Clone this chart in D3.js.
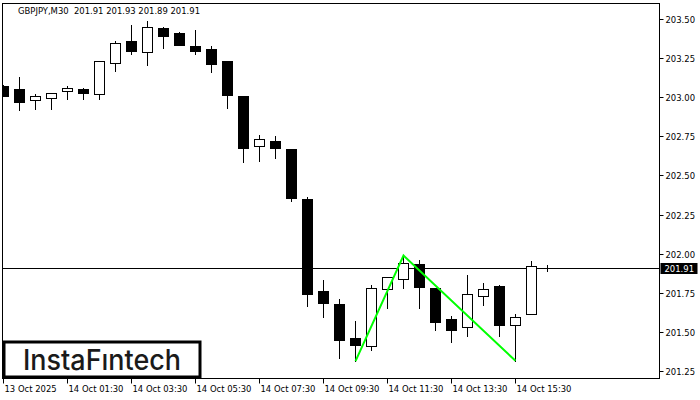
<!DOCTYPE html>
<html>
<head>
<meta charset="utf-8">
<script src="https://cdn.jsdelivr.net/npm/d3@7/dist/d3.min.js"></script>
<style>
  body { margin: 0; background: #fff; }
  svg { display: block; }
  .lbl { font-family: "DejaVu Sans Condensed", "DejaVu Sans", sans-serif; font-stretch: condensed; font-size: 9.4px; fill: #000; white-space: pre; }
</style>
</head>
<body>
<svg id="chart" width="700" height="400"></svg>
<script>
var title = "GBPJPY,M30  201.91 201.93 201.89 201.91";
var lastPrice = 201.91;

// M30 bars, 13 Oct 23:30 .. 14 Oct 16:30
var open  = [203.070, 203.054, 202.980, 202.997, 203.038, 203.052, 203.019, 203.217, 203.359, 203.287,
             203.441, 203.409, 203.327, 203.308, 203.231, 203.008, 202.686, 202.720, 202.669, 202.349,
             201.761, 201.678, 201.458, 201.407, 201.772, 201.836, 201.932, 201.778, 201.582, 201.529,
             201.727, 201.791, 201.542, 201.612, 201.910];
var high  = [203.078, 203.127, 203.020, 203.027, 203.074, 203.059, 203.232, 203.357, 203.462, 203.487,
             203.449, 203.417, 203.430, 203.327, 203.233, 203.010, 202.756, 202.752, 202.670, 202.360,
             201.831, 201.708, 201.569, 201.797, 201.850, 201.988, 201.959, 201.780, 201.601, 201.863,
             201.812, 201.797, 201.612, 201.951, 201.930];
var low   = [203.010, 202.916, 202.926, 202.926, 202.987, 202.987, 202.987, 203.166, 203.278, 203.208,
             203.316, 203.336, 203.278, 203.163, 202.933, 202.588, 202.594, 202.613, 202.338, 201.667,
             201.597, 201.334, 201.313, 201.384, 201.654, 201.778, 201.654, 201.512, 201.437, 201.475,
             201.673, 201.475, 201.315, 201.612, 201.890];
var close = [203.010, 202.967, 203.006, 203.025, 203.057, 203.025, 203.230, 203.345, 203.297, 203.447,
             203.393, 203.336, 203.297, 203.214, 203.016, 202.677, 202.731, 202.677, 202.357, 201.742,
             201.686, 201.450, 201.418, 201.778, 201.848, 201.938, 201.788, 201.565, 201.513, 201.740,
             201.776, 201.545, 201.597, 201.919, 201.910];

// double top pattern (bar index, price)
var patternBars = [22, 25, 32];
var patternPrices = [201.313, 201.988, 201.315];

var yTicks = [201.25, 201.50, 201.75, 202.00, 202.25, 202.50, 202.75, 203.00, 203.25, 203.50];
var xTickBars = [0, 4, 8, 12, 16, 20, 24, 28, 32];
var xTickLabels = ["13 Oct 2025", "14 Oct 01:30", "14 Oct 03:30", "14 Oct 05:30", "14 Oct 07:30",
                   "14 Oct 09:30", "14 Oct 11:30", "14 Oct 13:30", "14 Oct 15:30"];

var pLeft = 2.5, pTop = 3.5, pRight = 659.5, pBottom = 378.5;

var svg = d3.select("#chart");

var x = d3.scaleLinear().domain([0, 41]).range([3.5, 3.5 + 16 * 41]);
var y = d3.scaleLinear().domain([201.25, 203.5]).range([371, 19]);
function py(v) { return Math.round(y(v)) + 0.5; }

svg.append("defs").append("clipPath").attr("id", "plotclip")
  .append("rect").attr("x", pLeft).attr("y", pTop).attr("width", pRight - pLeft).attr("height", pBottom - pTop);

var plot = svg.append("g").attr("clip-path", "url(#plotclip)");

// last price line
plot.append("line")
  .attr("x1", pLeft).attr("x2", pRight)
  .attr("y1", py(lastPrice)).attr("y2", py(lastPrice))
  .attr("stroke", "#000").attr("stroke-width", 1);

var bars = d3.range(open.length);

var candle = plot.selectAll("g.candle").data(bars).enter().append("g").attr("class", "candle");

candle.append("line")
  .attr("x1", function(i) { return x(i); })
  .attr("x2", function(i) { return x(i); })
  .attr("y1", function(i) { return py(high[i]) - 0.5; })
  .attr("y2", function(i) { return py(low[i]) + 0.5; })
  .attr("stroke", "#000").attr("stroke-width", 1);

candle.append("rect")
  .attr("x", function(i) { return x(i) - 5; })
  .attr("y", function(i) { return py(Math.max(open[i], close[i])); })
  .attr("width", 10)
  .attr("height", function(i) { return py(Math.min(open[i], close[i])) - py(Math.max(open[i], close[i])); })
  .attr("fill", function(i) { return close[i] >= open[i] ? "#fff" : "#000"; })
  .attr("stroke", "#000").attr("stroke-width", 1);

// pattern line
var patLine = d3.line()
  .x(function(d) { return x(d[0]); })
  .y(function(d) { return y(d[1]); });

plot.append("path")
  .datum(d3.zip(patternBars, patternPrices))
  .attr("d", patLine)
  .attr("fill", "none")
  .attr("stroke", "#00ff00")
  .attr("stroke-width", 2);

// frame
svg.append("rect")
  .attr("x", pLeft).attr("y", pTop).attr("width", pRight - pLeft).attr("height", pBottom - pTop)
  .attr("fill", "none").attr("stroke", "#000").attr("stroke-width", 1);

// price axis
var yAxis = svg.append("g");
yAxis.selectAll("line").data(yTicks).enter().append("line")
  .attr("x1", pRight).attr("x2", pRight + 4)
  .attr("y1", function(d) { return py(d); })
  .attr("y2", function(d) { return py(d); })
  .attr("stroke", "#000");
yAxis.selectAll("text").data(yTicks).enter().append("text")
  .attr("class", "lbl")
  .attr("x", pRight + 6)
  .attr("y", function(d) { return py(d) + 3.5; })
  .text(function(d) { return d3.format(".2f")(d); });

yAxis.append("rect")
  .attr("x", pRight + 1).attr("y", py(lastPrice) - 5.5)
  .attr("width", 37).attr("height", 11)
  .attr("fill", "#000");
yAxis.append("text")
  .attr("class", "lbl")
  .attr("x", pRight + 5)
  .attr("y", py(lastPrice) + 3.5)
  .style("fill", "#fff")
  .text(d3.format(".2f")(lastPrice));

// time axis
var xAxis = svg.append("g");
xAxis.selectAll("line").data(xTickBars).enter().append("line")
  .attr("x1", function(i) { return x(i); })
  .attr("x2", function(i) { return x(i); })
  .attr("y1", pBottom).attr("y2", pBottom + 5)
  .attr("stroke", "#000");
xAxis.selectAll("text").data(xTickBars).enter().append("text")
  .attr("class", "lbl")
  .attr("x", function(i) { return x(i) + 1; })
  .attr("y", 392)
  .text(function(d, k) { return xTickLabels[k]; });

// title
svg.append("text")
  .attr("class", "lbl")
  .attr("x", 18).attr("y", 14)
  .text(title);

// logo
svg.append("rect")
  .attr("x", 4).attr("y", 342).attr("width", 196).attr("height", 35)
  .attr("fill", "#fff").attr("stroke", "#000").attr("stroke-width", 3);
svg.append("text")
  .attr("x", 23).attr("y", 370)
  .attr("textLength", 158).attr("lengthAdjust", "spacingAndGlyphs")
  .style("font-family", "Inter, 'Open Sans', sans-serif")
  .style("font-size", "28px")
  .style("font-weight", 500)
  .style("fill", "#1a1a1a")
  .text("InstaF\u0131ntech");
</script>
</body>
</html>
